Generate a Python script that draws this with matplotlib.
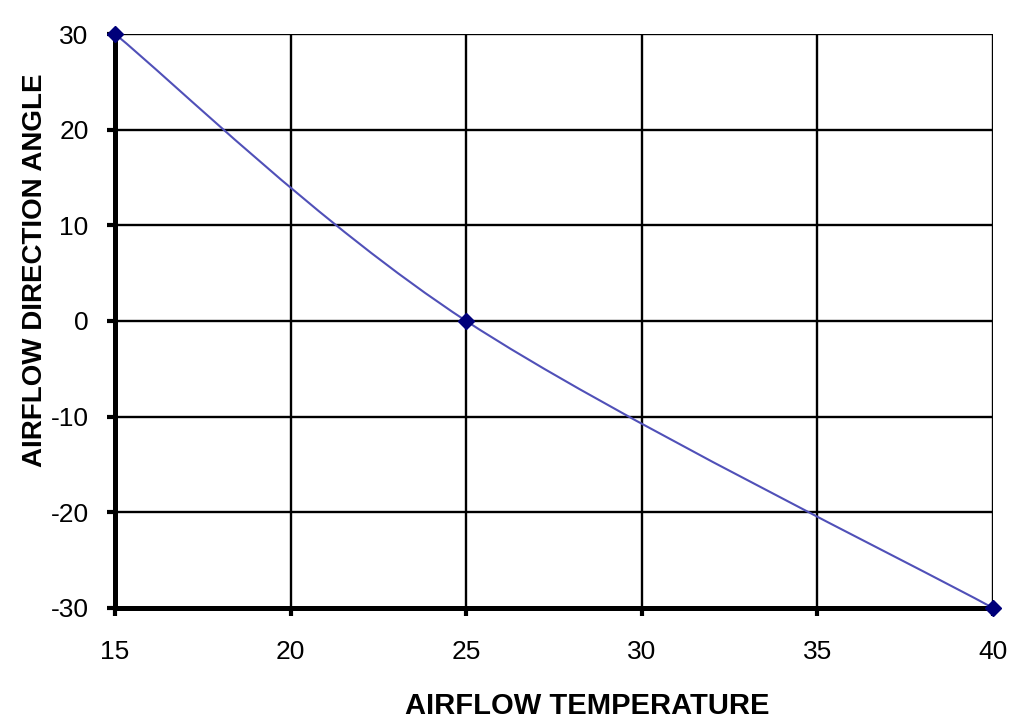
import matplotlib
matplotlib.use("Agg")
import matplotlib.pyplot as plt
from matplotlib.path import Path
from matplotlib.patches import PathPatch
import numpy as np

temps = [15, 25, 40]
angles = [30, 0, -30]
x_ticks = [15, 20, 25, 30, 35, 40]
y_ticks = [-30, -20, -10, 0, 10, 20, 30]

plt.rcParams['font.family'] = ['Liberation Sans', 'DejaVu Sans']
plt.rcParams['axes.unicode_minus'] = False

fig = plt.figure(figsize=(10.19, 7.19), dpi=100)
ax = fig.add_axes([0.1129, 0.1544, 0.8616, 0.7983])

# Excel-style smoothed line (cubic Bezier, Catmull-Rom tangents)
P = np.column_stack([temps, angles]).astype(float)
n = len(P)
verts = [tuple(P[0])]
codes = [Path.MOVETO]
for i in range(n - 1):
    p_prev = P[i - 1] if i > 0 else P[i]
    p_next = P[i + 2] if i + 2 < n else P[i + 1]
    c1 = P[i] + (P[i + 1] - p_prev) / 6.0
    c2 = P[i + 1] - (p_next - P[i]) / 6.0
    verts += [tuple(c1), tuple(c2), tuple(P[i + 1])]
    codes += [Path.CURVE4] * 3
ax.add_patch(PathPatch(Path(verts, codes), facecolor='none',
                       edgecolor='#5050b8', lw=1.5, zorder=3, clip_on=False))
ax.plot(temps, angles, linestyle='none', marker='D', markersize=8.5,
        color='#00007a', zorder=4, clip_on=False)

ax.set_xlim(15, 40)
ax.set_ylim(-30, 30)
ax.set_xticks(x_ticks)
ax.set_yticks(y_ticks)
ax.grid(True, color='black', lw=1.7, zorder=1)
ax.set_axisbelow(True)
for s in ['top', 'right']:
    ax.spines[s].set_visible(False)
for s in ['left', 'bottom']:
    ax.spines[s].set_linewidth(3.6)
    ax.spines[s].set_zorder(2)
ax.tick_params(axis='both', direction='out', length=6, width=3, colors='black',
               labelsize=19)
ax.yaxis.set_tick_params(pad=13)
ax.xaxis.set_tick_params(pad=17)
ax.set_xlabel('AIRFLOW TEMPERATURE', fontsize=21, fontweight='bold')
ax.set_ylabel('AIRFLOW DIRECTION ANGLE', fontsize=20, fontweight='bold')
ax.xaxis.set_label_coords(0.538, -0.146)
ax.yaxis.set_label_coords(-0.0765, 0.589)

fig.savefig('out.png', dpi=100)
